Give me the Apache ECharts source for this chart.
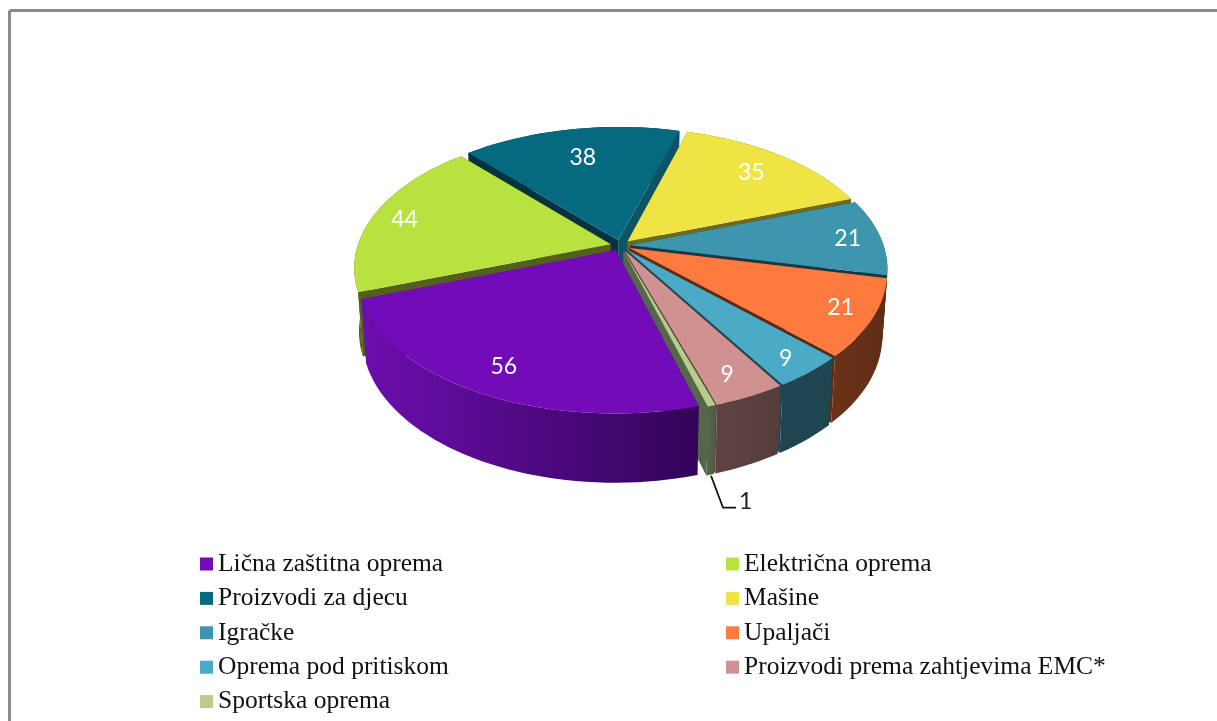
<!DOCTYPE html>
<html><head><meta charset="utf-8">
<style>html,body{margin:0;padding:0;background:#fff}#c{width:1217px;height:721px}</style>
<script src="https://cdn.jsdelivr.net/npm/echarts@6/dist/echarts.min.js"></script>
</head><body><div id="c"></div>
<script>
const categories = ['Lična zaštitna oprema','Električna oprema','Proizvodi za djecu','Mašine','Igračke','Upaljači','Oprema pod pritiskom','Proizvodi prema zahtjevima EMC*','Sportska oprema'];
const values = [56,44,38,35,21,21,9,9,1];
const topColors = ['#720bb8','#b8e23f','#056a80','#f0e445','#3e96ae','#ff7a3f','#4babc7','#cf9290','#b6cd8c'];
const sideFrom = ['#6c0eae','#535f1c','#06333f','#6e6a1d','#1b4a5a','#6a3319','#1f4550','#5e4342','#56664a'];
const sideTo = ['#330458','#535f1c','#06333f','#6e6a1d','#1b4a5a','#5f2c15','#1f4550','#553d3c','#4d5c42'];
const wallStart = ['#4d0a7c','#535f1c','#06333f','#0c5366','#1b4a5a','#6a3010','#1f4550','#5e4342','#56664a'];
const wallEnd = ['#4d0a7c','#535f1c','#0c5366','#6e6a1d','#123a48','#5f2a10','#1f4550','#5e4342','#56664a'];
const labelNudge = [[-3,3],[-12,1],[5,11],[-4,3],[12,0],[15,3],[13,11],[3,8],[0,0]];

const START = 164, EXPLODE = 0.04, CX = 620.5, CY = 245.5, RX = 253, RY = 134, PERSP = 0.168, LABEL_R = 0.82;
const total = values.reduce((a,b)=>a+b,0);
const rad = d => d*Math.PI/180;
const project = (X,Y,z) => ({
  x: CX + RX*X/(1-PERSP*Y)*(1-0.018*z),
  y: CY + RY*Y/(1-PERSP*Y) + z*(62+7*Y)
});
let acc = START;
const slices = values.map((v,i)=>{
  const a = acc, b = acc + v/total*360; acc = b;
  const m = (a+b)/2;
  const ox = Math.sin(rad(m))*EXPLODE, oy = -Math.cos(rad(m))*EXPLODE;
  const rim = [];
  const n = Math.max(2, Math.ceil((b-a)/2));
  for (let k=0;k<=n;k++){ const t=a+(b-a)*k/n; rim.push([ox+Math.sin(rad(t)), oy-Math.cos(rad(t))]); }
  const maxY = Math.max(oy, ...rim.map(p=>p[1]));
  return {i,a,b,m,ox,oy,rim,maxY};
});
const P = (X,Y,z) => { const q = project(X,Y,z); return [q.x,q.y]; };
function render(s){
  return function(){
    const i = s.i, top = s.rim.map(p=>P(p[0],p[1],0)), bot = s.rim.map(p=>P(p[0],p[1],1));
    const apT = P(s.ox,s.oy,0), apB = P(s.ox,s.oy,1);
    const xs = top.map(p=>p[0]);
    const grad = new echarts.graphic.LinearGradient(Math.min(...xs),0,Math.max(...xs),0,
      [{offset:0,color:sideFrom[i]},{offset:1,color:sideTo[i]}],true);
    const side = {type:'polygon',shape:{points:top.concat(bot.slice().reverse())},style:{fill:grad}};
    const walls = [
      {type:'polygon',shape:{points:[apT,top[0],bot[0],apB]},style:{fill:wallStart[i]}},
      {type:'polygon',shape:{points:[apT,top[top.length-1],bot[bot.length-1],apB]},style:{fill:wallEnd[i]}}
    ];
    const kids = (s.oy < 0 ? [side].concat(walls) : walls.concat([side]));
    kids.push({type:'polygon',shape:{points:[apT].concat(top)},style:{fill:topColors[i]}});
    const lblFont = 'Lato, "Open Sans", sans-serif';
    if (values[i] > 1){
      const L = P(s.ox+Math.sin(rad(s.m))*LABEL_R, s.oy-Math.cos(rad(s.m))*LABEL_R, 0);
      kids.push({type:'text',style:{x:L[0]+labelNudge[i][0],y:L[1]+labelNudge[i][1],text:String(values[i]),fill:'#fff',
        fontSize:23,fontFamily:lblFont,align:'center',verticalAlign:'middle'}});
    } else {
      const e = bot[bot.length>>1];
      const a1 = [e[0]+1, e[1]+1], a2 = [e[0]+13, e[1]+33], a3 = [e[0]+26, e[1]+33];
      kids.push({type:'polyline',shape:{points:[a1,a2,a3]},style:{stroke:'#111',lineWidth:1.8,fill:null}});
      kids.push({type:'text',style:{x:a3[0]+3,y:a3[1]-6,text:String(values[i]),fill:'#222',
        fontSize:23,fontFamily:lblFont,align:'left',verticalAlign:'middle'}});
    }
    return {type:'group',children:kids};
  };
}
const order = slices.slice().sort((p,q)=>p.maxY-q.maxY);
const series = order.map((s,k)=>({
  type:'custom',name:categories[s.i],coordinateSystem:'none',z:2+k,silent:true,
  itemStyle:{color:topColors[s.i]},data:[[values[s.i]]],renderItem:render(s)
}));
const legendBase = {orient:'vertical',icon:'rect',itemWidth:13,itemHeight:13,itemGap:5.4,padding:0,selectedMode:false,height:220,
  textStyle:{fontFamily:'"Liberation Serif", serif',fontSize:25.5,color:'#111',lineHeight:29}};
const chart = echarts.init(document.getElementById('c'),null,{renderer:'canvas'});
chart.setOption({
  animation:false,backgroundColor:'#fff',tooltip:{show:false},
  legend:[
    Object.assign({},legendBase,{left:200,top:549.5,data:categories.filter((_,i)=>i%2===0)}),
    Object.assign({},legendBase,{left:726,top:549.5,data:categories.filter((_,i)=>i%2===1)})
  ],
  graphic:[
    {type:'line',shape:{x1:9.5,y1:10.5,x2:1217,y2:10.5},style:{stroke:'#8a8a8a',lineWidth:3}},
    {type:'line',shape:{x1:9.5,y1:10.5,x2:9.5,y2:721},style:{stroke:'#8a8a8a',lineWidth:3}}
  ],
  series
});
</script></body></html>
